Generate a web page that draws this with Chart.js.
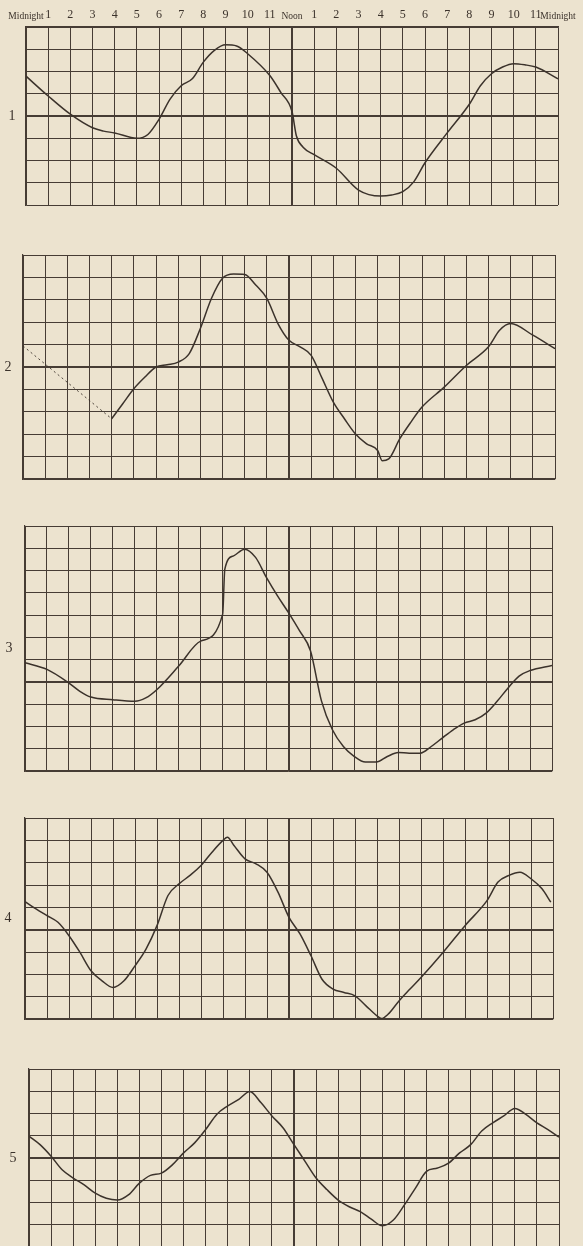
<!DOCTYPE html>
<html>
<head>
<meta charset="utf-8">
<script src="https://cdn.jsdelivr.net/npm/chart.js@4/dist/chart.umd.min.js"></script>
<style>
  html, body { margin: 0; padding: 0; overflow: hidden; background: #ece3cf; }
  body { width: 583px; height: 1246px; position: relative; }
  canvas { position: absolute; left: 0; }
</style>
</head>
<body>
<canvas id="c1"></canvas>
<canvas id="c2"></canvas>
<canvas id="c3"></canvas>
<canvas id="c4"></canvas>
<canvas id="c5"></canvas>
<script>
// hour labels along the top
const hourLabels = ['Midnight','1','2','3','4','5','6','7','8','9','10','11','Noon',
  '1','2','3','4','5','6','7','8','9','10','11','Midnight'];
const panelLabels = ['1', '2', '3', '4', '5'];

// curve 1
const hours1 = [0,1,2,3,3.5,4,5,5.5,6,6.5,7,7.5,8,8.5,9,9.5,10,11,11.5,12,12.2,12.5,13,14,15,16,16.5,17,17.5,18,19,20,20.5,21,21.5,22,22.5,23,24];
const values1 = [1.79,0.9,0.08,-0.53,-0.68,-0.76,-1.0,-0.83,-0.15,0.76,1.36,1.67,2.42,2.95,3.2,3.15,2.8,1.82,1.05,0.2,-0.9,-1.4,-1.74,-2.35,-3.33,-3.6,-3.55,-3.4,-2.95,-2.1,-0.76,0.53,1.36,1.9,2.2,2.35,2.3,2.2,1.67];

// curve 2 (dotted start, then solid)
const hours2dotted = [0, 4];
const values2dotted = [0.94, -2.31];
const hours2 = [4,4.5,5,5.5,6,6.5,7,7.5,8,8.5,9,9.5,10,10.5,11,11.5,12,12.5,13,13.5,14,14.5,15,15.5,16,16.2,16.5,17,17.5,18,19,20,21,21.5,22,23,24];
const values2 = [-2.31,-1.64,-0.97,-0.45,0,0.1,0.22,0.6,1.72,3.06,3.96,4.15,4.13,3.66,3.06,1.94,1.19,0.9,0.52,-0.52,-1.57,-2.31,-2.99,-3.43,-3.73,-4.18,-4.1,-3.2,-2.46,-1.79,-0.9,0.07,0.9,1.64,1.94,1.42,0.82];

// curve 3
const hours3 = [0,1,2,2.5,3,4,5,5.5,6,7,8,9,9.1,9.5,10,10.5,11,11.5,12,12.5,13,13.5,14,14.5,15,15.5,16,16.5,17,17.5,18,18.5,19,19.5,20,20.5,21,21.5,22,22.5,23,24];
const values3 = [0.86,0.56,-0.05,-0.42,-0.68,-0.8,-0.87,-0.72,-0.35,0.71,1.83,3.03,5.06,5.66,5.96,5.59,4.68,3.86,3.11,2.3,1.4,-0.85,-2.15,-2.9,-3.35,-3.6,-3.6,-3.35,-3.17,-3.2,-3.2,-2.9,-2.52,-2.15,-1.85,-1.7,-1.4,-0.87,-0.27,0.26,0.51,0.74];

// curve 4
const hours4 = [0,0.5,1,1.5,2,2.5,3,3.5,4,4.5,5,5.5,6,6.5,7,7.5,8,8.5,9,9.2,9.5,10,10.5,11,11.5,12,12.5,13,13.5,14,14.5,15,15.5,16,16.2,16.5,17,17.5,18,19,20,21,21.5,22,22.5,23,23.5,23.9];
const values4 = [1.26,0.93,0.63,0.33,-0.27,-1.02,-1.84,-2.29,-2.59,-2.29,-1.62,-0.87,0.18,1.53,2.05,2.43,2.87,3.47,4.0,4.14,3.77,3.17,2.95,2.57,1.68,0.55,-0.19,-1.17,-2.22,-2.66,-2.81,-2.96,-3.41,-3.86,-3.98,-3.79,-3.19,-2.66,-2.14,-1.02,0.18,1.3,2.13,2.43,2.57,2.28,1.83,1.23];

// curve 5
const hours5 = [0,0.5,1,1.5,2,2.5,3,3.5,4,4.5,5,5.5,6,6.5,7,7.5,8,8.5,9,9.5,10,10.5,11,11.5,12,12.5,13,13.5,14,14.5,15,15.5,16,16.5,17,17.5,18,18.5,19,19.5,20,20.5,21,21.5,22,22.5,23,23.5,24];
const values5 = [0.98,0.6,0.08,-0.53,-0.9,-1.21,-1.58,-1.81,-1.89,-1.66,-1.13,-0.78,-0.68,-0.3,0.23,0.68,1.28,1.96,2.34,2.64,2.99,2.49,1.89,1.36,0.6,-0.15,-0.9,-1.43,-1.89,-2.19,-2.41,-2.75,-3.05,-2.79,-2.11,-1.35,-0.6,-0.45,-0.23,0.23,0.6,1.21,1.58,1.89,2.23,1.96,1.58,1.28,0.94];

const ink = '#3b322b';
const gridInk = '#463c34';
Chart.defaults.font.family = "'Liberation Serif', serif";
Chart.defaults.color = ink;

// where each grid sits on the page
const panels = [
  {id: 'c1', left: 26, right: 558, top: 27, bottom: 205, yMin: -4, yMax: 4, labelX: 12},
  {id: 'c2', left: 23, right: 555, top: 255, bottom: 479, yMin: -5, yMax: 5, labelX: 8},
  {id: 'c3', left: 25, right: 552, top: 526, bottom: 771, yMin: -4, yMax: 7, labelX: 9},
  {id: 'c4', left: 25, right: 553, top: 818, bottom: 1019, yMin: -4, yMax: 5, labelX: 8},
  {id: 'c5', left: 29, right: 559, top: 1069, bottom: 1247, yMin: -4, yMax: 4, labelX: 13}
];

const series = [
  [{h: hours1, v: values1}],
  [{h: hours2dotted, v: values2dotted, dash: [2, 3], width: 0.9}, {h: hours2, v: values2}],
  [{h: hours3, v: values3}],
  [{h: hours4, v: values4}],
  [{h: hours5, v: values5}]
];

const panelLabel = {
  id: 'panelLabel',
  afterDraw(chart, args, opts) {
    const ctx = chart.ctx, a = chart.chartArea;
    ctx.save();
    ctx.fillStyle = ink;
    ctx.font = "14px 'Liberation Serif', serif";
    ctx.textAlign = 'center';
    ctx.textBaseline = 'middle';
    ctx.fillText(opts.text, opts.x, (a.top + a.bottom) / 2);
    ctx.restore();
  }
};

panels.forEach(function (p, i) {
  const first = i === 0;
  const pad = 4;
  const canvasTop = first ? 0 : p.top - pad;
  const canvasH = p.bottom - canvasTop + pad;
  const cv = document.getElementById(p.id);
  cv.width = 583;
  cv.height = canvasH;
  cv.style.top = canvasTop + 'px';

  const datasets = series[i].map(function (s) {
    return {
      data: s.h.map((h, k) => ({x: h, y: s.v[k]})),
      borderColor: ink,
      borderWidth: s.width || 1.5,
      borderDash: s.dash || [],
      pointRadius: 0,
      cubicInterpolationMode: 'monotone',
      fill: false
    };
  });

  new Chart(cv, {
    type: 'line',
    data: {datasets: datasets},
    plugins: [panelLabel],
    options: {
      responsive: false,
      animation: false,
      devicePixelRatio: 1,
      layout: {padding: {left: p.left, right: 583 - p.right, top: first ? 0 : pad, bottom: pad}},
      plugins: {
        legend: {display: false},
        tooltip: {enabled: false},
        panelLabel: {text: panelLabels[i], x: p.labelX}
      },
      scales: {
        x: {
          type: 'linear',
          position: first ? 'top' : 'bottom',
          min: 0, max: 24,
          afterFit: function (scale) { scale.height = first ? p.top : 0; },
          grid: {
            color: gridInk,
            lineWidth: c => (c.tick && c.tick.value === 12 ? 2 : 1),
            drawTicks: false
          },
          border: {display: true, color: gridInk, width: 1.2},
          ticks: {
            display: first,
            stepSize: 1,
            maxTicksLimit: 100,
            autoSkip: false,
            maxRotation: 0,
            padding: 5,
            font: c => ({size: (c.tick && (c.tick.value === 0 || c.tick.value === 12 || c.tick.value === 24)) ? 9.5 : 12}),
            callback: v => hourLabels[v]
          }
        },
        y: {
          type: 'linear',
          min: p.yMin, max: p.yMax,
          afterFit: function (scale) { scale.width = 0; },
          grid: {
            color: gridInk,
            lineWidth: c => (c.tick && c.tick.value === 0 ? 2 : 1),
            drawTicks: false
          },
          border: {display: true, color: gridInk, width: 1.2},
          ticks: {display: false, stepSize: 1, maxTicksLimit: 100}
        }
      }
    }
  });
});
</script>
</body>
</html>
